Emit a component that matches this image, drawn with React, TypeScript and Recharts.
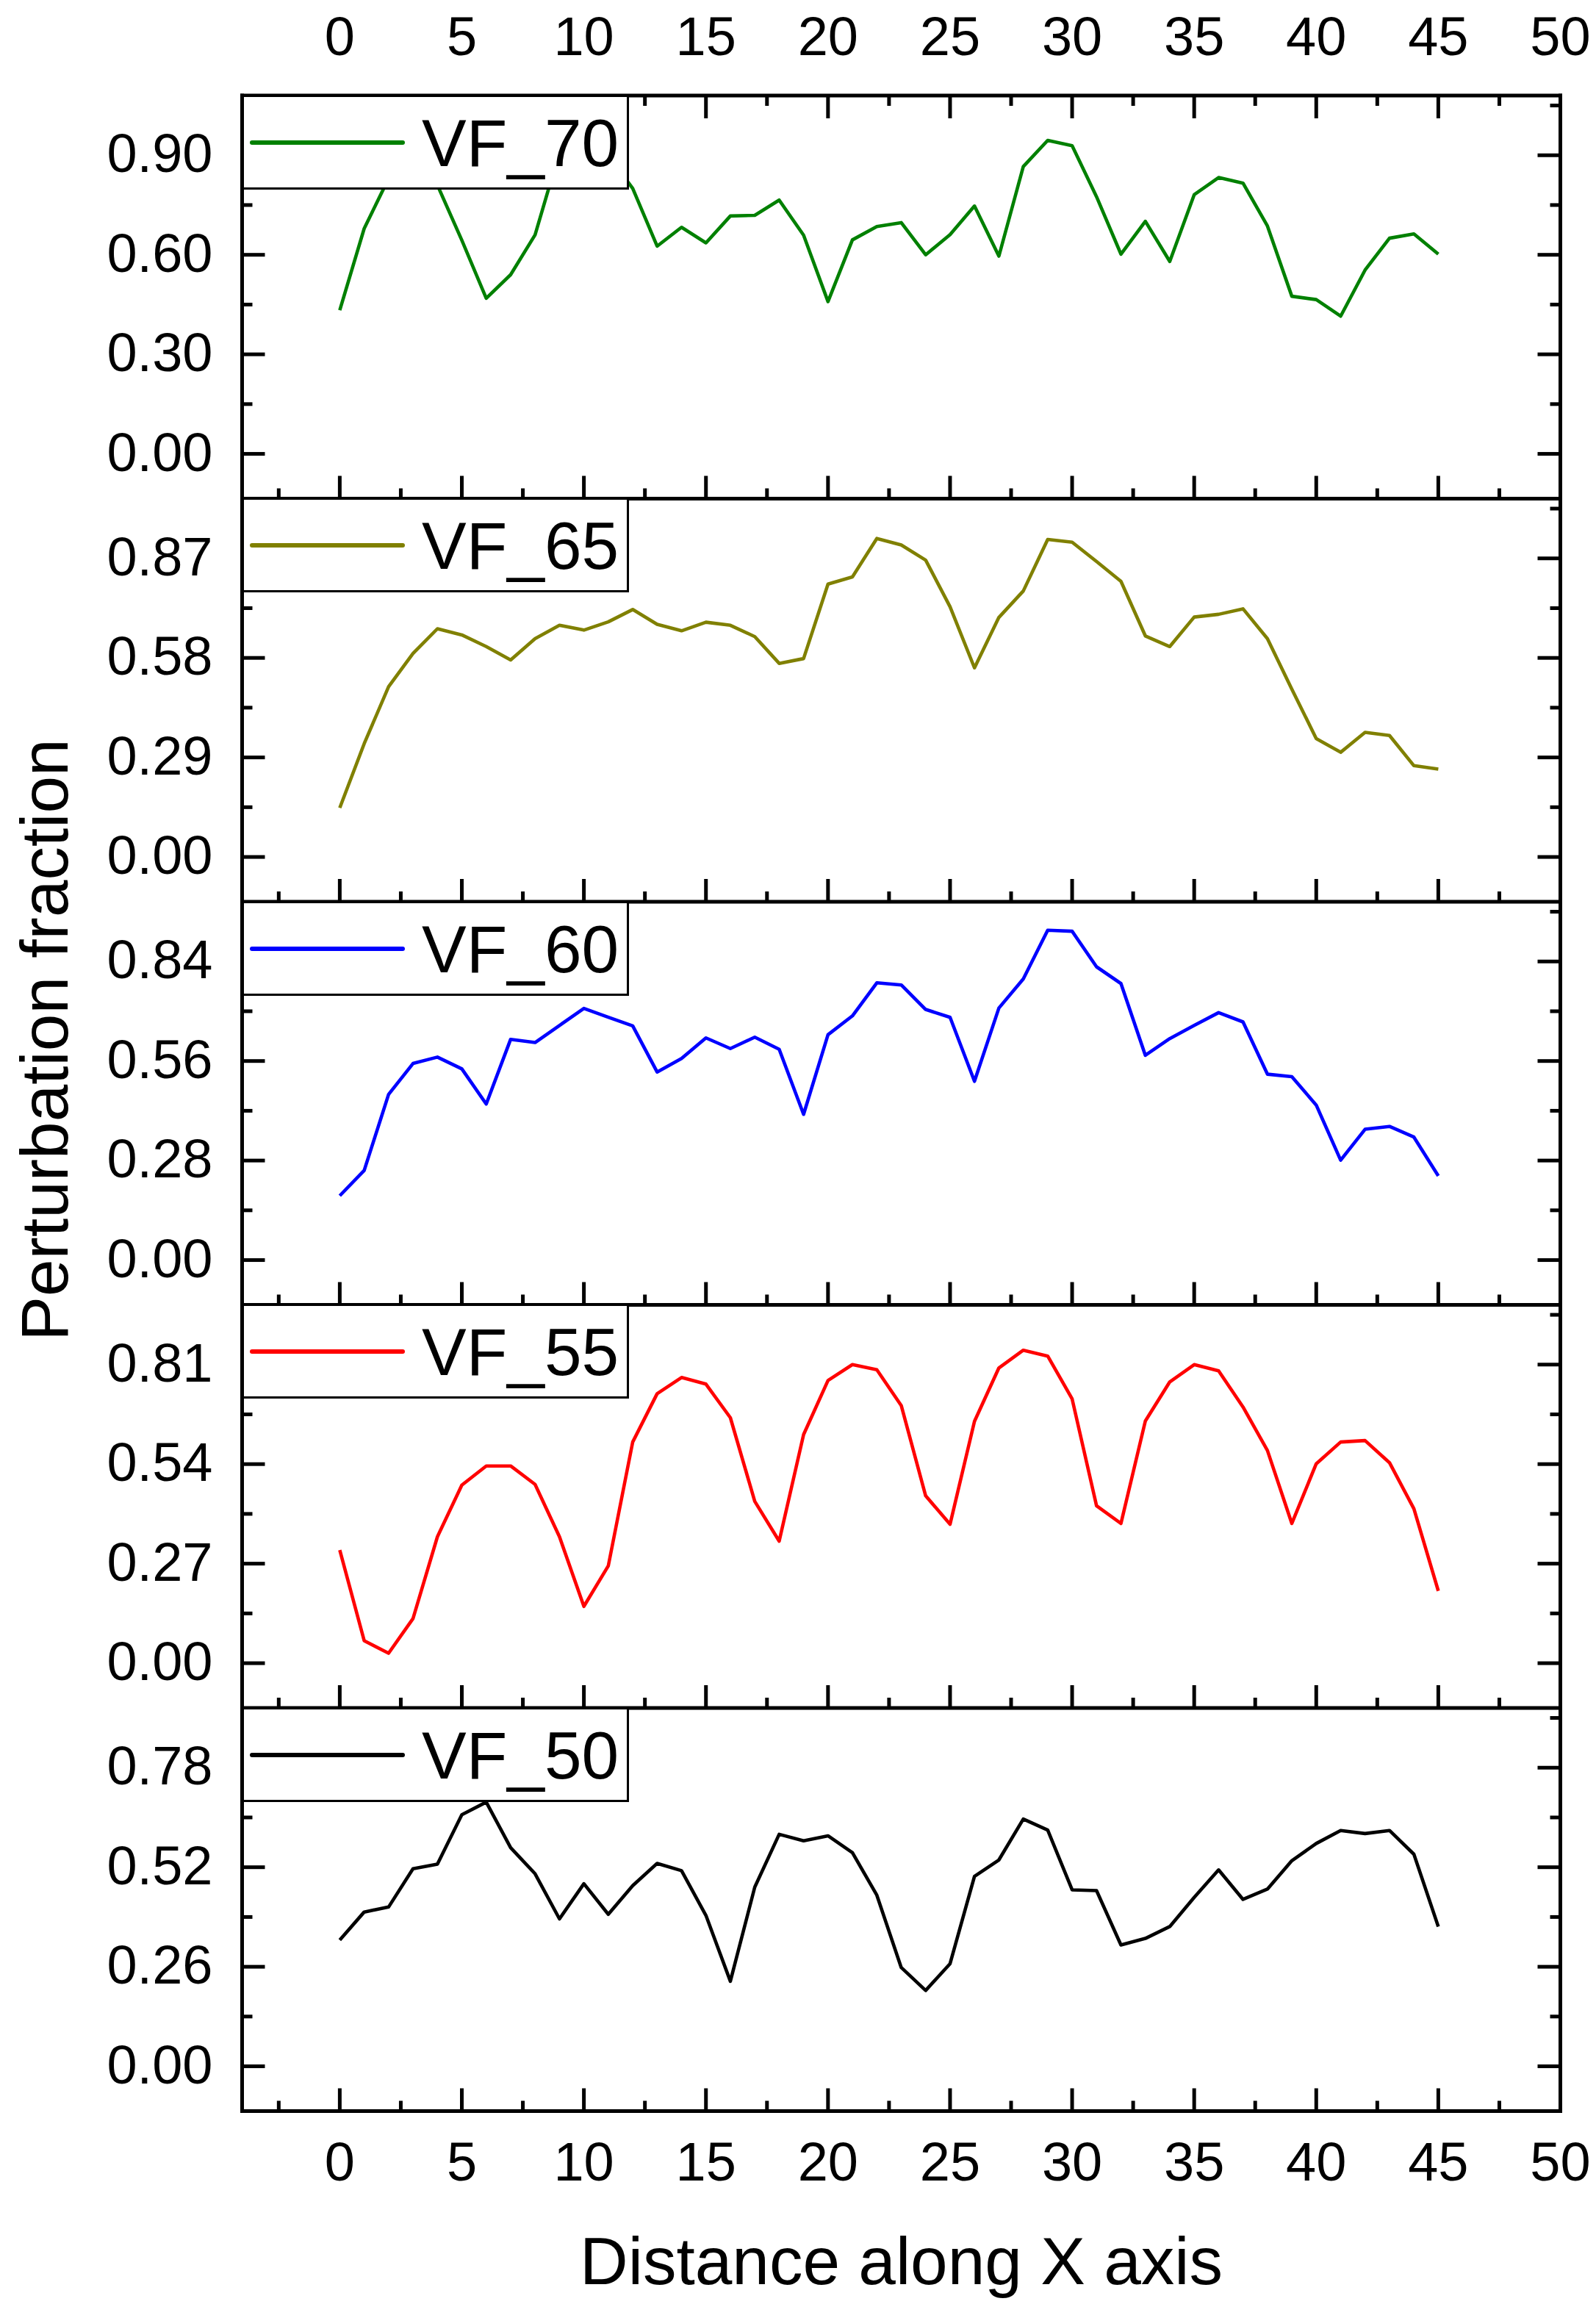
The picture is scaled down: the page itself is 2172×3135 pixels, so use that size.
import React from 'react';
import { LineChart, Line, XAxis, YAxis, Legend, Label } from 'recharts';

const FONT = "'Liberation Sans', Arial, Helvetica, sans-serif";
const W = 2172;
const H = 3135;
const PLOT_LEFT = 329.5;
const PLOT_RIGHT = 2123.5;
const FIRST_TOP = 130;
const PANEL_H = 548.5;
const X_AXIS_H = 120;

// ---- data ----
const distance = [
  0, 1, 2, 3, 4, 5, 6, 7, 8, 9, 10, 11, 12, 13, 14, 15, 16, 17, 18, 19, 20, 21, 22,
  23, 24, 25, 26, 27, 28, 29, 30, 31, 32, 33, 34, 35, 36, 37, 38, 39, 40, 41, 42, 43, 44, 45,
];

const vf70 = [
  0.433, 0.679, 0.83, 0.88, 0.81, 0.644, 0.469, 0.54, 0.66, 0.91, 0.89, 0.9, 0.8, 0.626, 0.683,
  0.636, 0.717, 0.719, 0.765, 0.659, 0.459, 0.645, 0.685, 0.697, 0.6, 0.661, 0.747, 0.596, 0.866,
  0.945, 0.929, 0.775, 0.602, 0.701, 0.58, 0.781, 0.833, 0.816, 0.687, 0.475, 0.465, 0.415, 0.554,
  0.65, 0.663, 0.602,
];
const vf65 = [
  0.143, 0.33, 0.496, 0.593, 0.665, 0.647, 0.613, 0.574, 0.636, 0.675, 0.661, 0.685, 0.721, 0.678,
  0.659, 0.684, 0.675, 0.642, 0.564, 0.578, 0.795, 0.816, 0.928, 0.909, 0.865, 0.729, 0.551, 0.698,
  0.775, 0.925, 0.917, 0.861, 0.803, 0.644, 0.613, 0.699, 0.707, 0.723, 0.636, 0.489, 0.345, 0.305,
  0.363, 0.354, 0.266, 0.256,
];
const vf60 = [
  0.181, 0.252, 0.466, 0.553, 0.571, 0.538, 0.439, 0.621, 0.612, 0.66, 0.708, 0.683, 0.659, 0.529,
  0.567, 0.625, 0.595, 0.627, 0.593, 0.41, 0.634, 0.687, 0.78, 0.774, 0.705, 0.683, 0.503, 0.709,
  0.791, 0.928, 0.925, 0.825, 0.778, 0.576, 0.623, 0.66, 0.696, 0.67, 0.523, 0.516, 0.436, 0.281,
  0.368, 0.376, 0.346, 0.237,
];
const vf55 = [
  0.307, 0.061, 0.027, 0.121, 0.343, 0.483, 0.535, 0.535, 0.485, 0.343, 0.154, 0.264, 0.6, 0.731,
  0.775, 0.757, 0.666, 0.439, 0.331, 0.62, 0.767, 0.81, 0.796, 0.699, 0.454, 0.377, 0.656, 0.801,
  0.849, 0.833, 0.717, 0.427, 0.379, 0.657, 0.763, 0.81, 0.793, 0.695, 0.577, 0.379, 0.541, 0.6,
  0.604, 0.544, 0.419, 0.196,
];
const vf50 = [
  0.33, 0.403, 0.416, 0.516, 0.528, 0.657, 0.69, 0.571, 0.503, 0.385, 0.477, 0.397, 0.472, 0.53,
  0.511, 0.394, 0.222, 0.468, 0.606, 0.589, 0.602, 0.558, 0.447, 0.258, 0.198, 0.268, 0.496, 0.539,
  0.646, 0.617, 0.461, 0.459, 0.317, 0.334, 0.365, 0.441, 0.513, 0.436, 0.463, 0.537, 0.582, 0.616,
  0.608, 0.616, 0.554, 0.365,
];

// ---- ticks ----
const xDomain = [-4, 50];
const xMajorTicks = [0, 5, 10, 15, 20, 25, 30, 35, 40, 45, 50];
const xMinorTicks = [-2.5, 2.5, 7.5, 12.5, 17.5, 22.5, 27.5, 32.5, 37.5, 42.5, 47.5];

const yMajor70 = [0, 0.3, 0.6, 0.9];
const yMinor70 = [0.15, 0.45, 0.75, 1.05];
const yDomain70 = [-0.135, 1.08];

const yMajor65 = [0, 0.29, 0.58, 0.87];
const yMinor65 = [0.145, 0.435, 0.725, 1.015];
const yDomain65 = [-0.1305, 1.044];

const yMajor60 = [0, 0.28, 0.56, 0.84];
const yMinor60 = [0.14, 0.42, 0.7, 0.98];
const yDomain60 = [-0.126, 1.008];

const yMajor55 = [0, 0.27, 0.54, 0.81];
const yMinor55 = [0.135, 0.405, 0.675, 0.945];
const yDomain55 = [-0.1215, 0.972];

const yMajor50 = [0, 0.26, 0.52, 0.78];
const yMinor50 = [0.13, 0.39, 0.65, 0.91];
const yDomain50 = [-0.117, 0.936];

const panels = [
  { name: 'VF_70', color: '#008000', values: vf70, major: yMajor70, minor: yMinor70, domain: yDomain70 },
  { name: 'VF_65', color: '#808000', values: vf65, major: yMajor65, minor: yMinor65, domain: yDomain65 },
  { name: 'VF_60', color: '#0000FF', values: vf60, major: yMajor60, minor: yMinor60, domain: yDomain60 },
  { name: 'VF_55', color: '#FF0000', values: vf55, major: yMajor55, minor: yMinor55, domain: yDomain55 },
  { name: 'VF_50', color: '#000000', values: vf50, major: yMajor50, minor: yMinor50, domain: yDomain50 },
];

const isIn = (arr: number[], v: number) => arr.some((m) => Math.abs(m - v) < 1e-9);
const xTicks = [...xMinorTicks, ...xMajorTicks].sort((a, b) => a - b);

const frameLine = { stroke: '#000', strokeWidth: 5, strokeLinecap: 'square' as const };
const TICK_W = 5;
const MAJOR_LEN = 31;
const MINOR_LEN = 14;

function LeftTick(props: any) {
  const { x, y, payload, major } = props;
  const isMajor = isIn(major, payload.value);
  return (
    <g>
      <line x1={x} x2={x + (isMajor ? MAJOR_LEN : MINOR_LEN)} y1={y} y2={y} stroke="#000" strokeWidth={TICK_W} />
      {isMajor && (
        <text x={x - 40} y={y + 23} textAnchor="end" fontSize={74} fontFamily={FONT} fill="#000">
          {Number(payload.value).toFixed(2)}
        </text>
      )}
    </g>
  );
}

function RightTick(props: any) {
  const { x, y, payload, major } = props;
  const isMajor = isIn(major, payload.value);
  return (
    <line x1={x} x2={x - (isMajor ? MAJOR_LEN : MINOR_LEN)} y1={y} y2={y} stroke="#000" strokeWidth={TICK_W} />
  );
}

function BottomTick(props: any) {
  const { x, y, payload, showLabel } = props;
  const isMajor = isIn(xMajorTicks, payload.value);
  return (
    <g>
      <line x1={x} x2={x} y1={y} y2={y - (isMajor ? MAJOR_LEN : MINOR_LEN)} stroke="#000" strokeWidth={TICK_W} />
      {showLabel && isMajor && (
        <text x={x} y={y + 94} textAnchor="middle" fontSize={74} fontFamily={FONT} fill="#000">
          {payload.value}
        </text>
      )}
    </g>
  );
}

function TopTick(props: any) {
  const { x, y, payload } = props;
  const isMajor = isIn(xMajorTicks, payload.value);
  return (
    <g>
      <line x1={x} x2={x} y1={y} y2={y + (isMajor ? MAJOR_LEN : MINOR_LEN)} stroke="#000" strokeWidth={TICK_W} />
      {isMajor && (
        <text x={x} y={y - 55} textAnchor="middle" fontSize={74} fontFamily={FONT} fill="#000">
          {payload.value}
        </text>
      )}
    </g>
  );
}

function LegendBox({ name, color, payload }: any) {
  const item = payload && payload[0];
  const label = item && item.value ? item.value : name;
  const c = item && item.color ? item.color : color;
  return (
    <div
      style={{
        width: 527,
        height: 129,
        boxSizing: 'border-box',
        border: '3px solid #000',
        background: '#fff',
      }}
    >
      <svg width={521} height={123} style={{ display: 'block' }}>
        <line x1={11} x2={216} y1={62} y2={62} stroke={c} strokeWidth={6} strokeLinecap="round" />
        <text x={242} y={94} fontSize={91} fontFamily={FONT} fill="#000">
          {label}
        </text>
      </svg>
    </div>
  );
}

function Panel({ k }: { k: number }) {
  const p = panels[k];
  const top = FIRST_TOP + k * PANEL_H;
  const bottom = top + PANEL_H;
  const isFirst = k === 0;
  const isLast = k === panels.length - 1;
  const rows = distance.map((x, i) => ({ x, v: p.values[i] }));
  const yTicks = [...p.minor, ...p.major].sort((a, b) => a - b);

  return (
    <div style={{ position: 'absolute', left: 0, top: 0 }}>
      <LineChart
        width={W}
        height={H}
        data={rows}
        margin={{
          top: isFirst ? top - X_AXIS_H : top,
          bottom: H - bottom - X_AXIS_H,
          left: 0,
          right: 0,
        }}
      >
        <XAxis
          xAxisId="b"
          dataKey="x"
          type="number"
          orientation="bottom"
          domain={xDomain}
          allowDataOverflow
          ticks={xTicks}
          interval={0}
          height={X_AXIS_H}
          tickSize={0}
          tickMargin={0}
          tickLine={false}
          axisLine={frameLine}
          tick={(tp: any) => <BottomTick {...tp} showLabel={isLast} />}
        >
          {isLast && (
            <Label
              content={(lp: any) => {
                const vb = lp.viewBox || {};
                return (
                  <text
                    x={(vb.x ?? PLOT_LEFT) + (vb.width ?? PLOT_RIGHT - PLOT_LEFT) / 2}
                    y={bottom + 235.5}
                    textAnchor="middle"
                    fontSize={91}
                    fontFamily={FONT}
                    fill="#000"
                  >
                    Distance along X axis
                  </text>
                );
              }}
            />
          )}
        </XAxis>
        {isFirst && (
          <XAxis
            xAxisId="t"
            dataKey="x"
            type="number"
            orientation="top"
            domain={xDomain}
            allowDataOverflow
            ticks={xTicks}
            interval={0}
            height={X_AXIS_H}
            tickSize={0}
            tickMargin={0}
            tickLine={false}
            axisLine={frameLine}
            tick={(tp: any) => <TopTick {...tp} />}
          />
        )}
        <YAxis
          yAxisId="l"
          dataKey="v"
          type="number"
          orientation="left"
          width={PLOT_LEFT}
          domain={p.domain}
          allowDataOverflow
          ticks={yTicks}
          interval={0}
          tickSize={0}
          tickMargin={0}
          tickLine={false}
          axisLine={frameLine}
          tick={(tp: any) => <LeftTick {...tp} major={p.major} />}
        >
          {k === 2 && (
            <Label
              content={() => (
                <text
                  x={92}
                  y={1415}
                  transform="rotate(-90, 92, 1415)"
                  textAnchor="middle"
                  fontSize={91}
                  fontFamily={FONT}
                  fill="#000"
                >
                  Perturbation fraction
                </text>
              )}
            />
          )}
        </YAxis>
        <YAxis
          yAxisId="r"
          dataKey="v"
          type="number"
          orientation="right"
          width={W - PLOT_RIGHT}
          domain={p.domain}
          allowDataOverflow
          ticks={yTicks}
          interval={0}
          tickSize={0}
          tickMargin={0}
          tickLine={false}
          axisLine={frameLine}
          tick={(tp: any) => <RightTick {...tp} major={p.major} />}
        />
        <Line
          xAxisId="b"
          yAxisId="l"
          type="linear"
          dataKey="v"
          name={p.name}
          stroke={p.color}
          strokeWidth={4.6}
          strokeLinejoin="round"
          dot={false}
          activeDot={false}
          isAnimationActive={false}
        />
        <Legend
          layout="vertical"
          verticalAlign="middle"
          align="center"
          wrapperStyle={{ left: PLOT_LEFT - 1, top: top - 1.5, width: 527, height: 129, margin: 0 }}
          content={(lp: any) => <LegendBox {...lp} name={p.name} color={p.color} />}
        />
      </LineChart>
    </div>
  );
}

export default function App() {
  return (
    <div
      style={{
        position: 'absolute',
        left: 0,
        top: 0,
        width: W,
        height: H,
        background: '#fff',
        overflow: 'hidden',
      }}
    >
      {panels.map((_, k) => (
        <Panel key={k} k={k} />
      ))}
    </div>
  );
}
